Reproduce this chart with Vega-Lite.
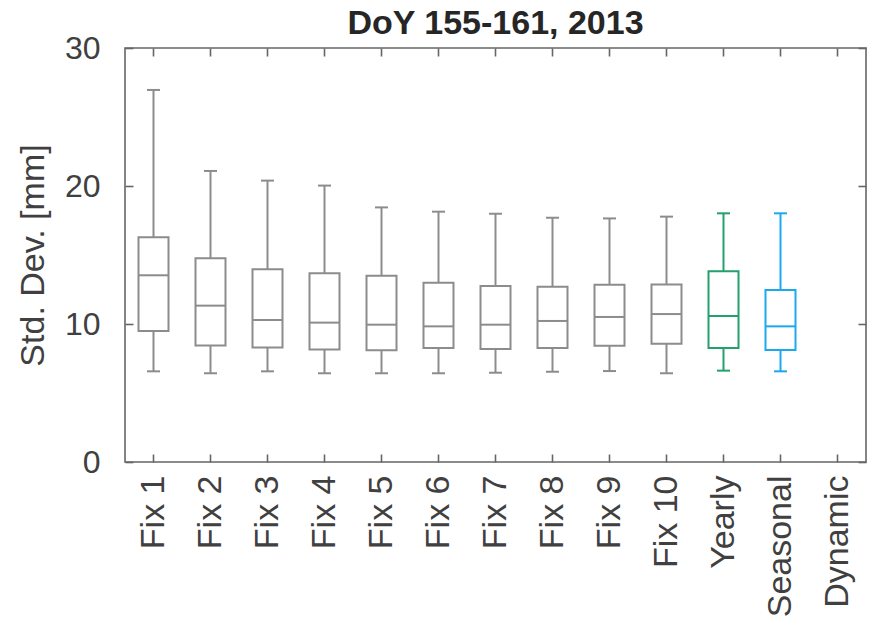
{
  "$schema": "https://vega.github.io/schema/vega-lite/v6.json",
  "autosize": {"type": "none"},
  "padding": {"left": 125, "top": 48, "right": 3, "bottom": 159},
  "width": 741,
  "height": 414,
  "title": {"text": "DoY 155-161, 2013", "fontSize": 34, "fontWeight": "bold", "font": "Liberation Sans", "color": "#262626", "offset": -9, "anchor": "middle"},
  "config": {
    "view": {"stroke": "#666666", "strokeWidth": 1.6},
    "axis": {"labelFont": "Liberation Sans", "titleFont": "Liberation Sans", "labelColor": "#404040", "titleColor": "#404040", "grid": false, "domain": false, "tickColor": "#666666", "tickWidth": 1.6}
  },
  "data": {"values": [
    {"cat": "Fix 1", "grp": "fix", "lo": 6.57, "q1": 9.49, "med": 13.53, "q3": 16.28, "hi": 26.96},
    {"cat": "Fix 2", "grp": "fix", "lo": 6.43, "q1": 8.45, "med": 11.33, "q3": 14.76, "hi": 21.09},
    {"cat": "Fix 3", "grp": "fix", "lo": 6.57, "q1": 8.29, "med": 10.29, "q3": 13.96, "hi": 20.39},
    {"cat": "Fix 4", "grp": "fix", "lo": 6.43, "q1": 8.16, "med": 10.10, "q3": 13.67, "hi": 20.03},
    {"cat": "Fix 5", "grp": "fix", "lo": 6.43, "q1": 8.09, "med": 9.95, "q3": 13.5, "hi": 18.45},
    {"cat": "Fix 6", "grp": "fix", "lo": 6.43, "q1": 8.26, "med": 9.83, "q3": 12.99, "hi": 18.14},
    {"cat": "Fix 7", "grp": "fix", "lo": 6.47, "q1": 8.19, "med": 9.95, "q3": 12.75, "hi": 17.99},
    {"cat": "Fix 8", "grp": "fix", "lo": 6.54, "q1": 8.26, "med": 10.22, "q3": 12.70, "hi": 17.70},
    {"cat": "Fix 9", "grp": "fix", "lo": 6.59, "q1": 8.43, "med": 10.51, "q3": 12.85, "hi": 17.65},
    {"cat": "Fix 10", "grp": "fix", "lo": 6.43, "q1": 8.57, "med": 10.72, "q3": 12.87, "hi": 17.78},
    {"cat": "Yearly", "grp": "yearly", "lo": 6.62, "q1": 8.26, "med": 10.58, "q3": 13.82, "hi": 18.02},
    {"cat": "Seasonal", "grp": "seasonal", "lo": 6.57, "q1": 8.12, "med": 9.83, "q3": 12.46, "hi": 18.02}
  ]},
  "encoding": {
    "x": {"field": "cat", "type": "nominal", "sort": null, "axis": null,
      "scale": {"domain": ["Fix 1","Fix 2","Fix 3","Fix 4","Fix 5","Fix 6","Fix 7","Fix 8","Fix 9","Fix 10","Yearly","Seasonal","Dynamic"], "paddingInner": 0, "paddingOuter": 0}},
    "color": {"field": "grp", "type": "nominal", "legend": null,
      "scale": {"domain": ["fix","yearly","seasonal"], "range": ["#8c8c8c","#22a06e","#1ba8ef"]}}
  },
  "layer": [
    {
      "mark": {"type": "rule", "strokeWidth": 2},
      "encoding": {
        "x": {"field": "cat", "type": "nominal", "sort": null,
          "axis": {"orient": "bottom", "title": null, "labelAngle": -90, "labelFontSize": 34, "tickSize": -8, "labelPadding": 21}},
        "y": {"field": "lo", "type": "quantitative", "scale": {"domain": [0, 30], "nice": false, "zero": true},
          "axis": {"orient": "left", "values": [0,10,20,30], "title": "Std. Dev. [mm]", "titleFontSize": 34, "titleFontWeight": "normal", "labelFontSize": 32, "tickSize": -8, "labelPadding": 33, "titlePadding": 14}},
        "y2": {"field": "hi"}
      }
    },
    {
      "mark": {"type": "bar", "fill": "white", "strokeWidth": 2, "size": 30, "opacity": 1},
      "encoding": {
        "y": {"field": "q1", "type": "quantitative", "axis": null},
        "y2": {"field": "q3"},
        "stroke": {"field": "grp", "type": "nominal", "legend": null,
          "scale": {"domain": ["fix","yearly","seasonal"], "range": ["#8c8c8c","#22a06e","#1ba8ef"]}}
      }
    },
    {
      "mark": {"type": "tick", "thickness": 2, "size": 30, "opacity": 1},
      "encoding": {
        "x": {"field": "cat", "type": "nominal", "sort": null,
          "axis": {"orient": "top", "title": null, "labels": false, "tickSize": -8}},
        "y": {"field": "med", "type": "quantitative",
          "axis": {"orient": "right", "values": [0,10,20,30], "title": null, "labels": false, "tickSize": -8}}
      }
    },
    {
      "mark": {"type": "tick", "thickness": 2, "size": 13, "opacity": 1},
      "encoding": {"y": {"field": "lo", "type": "quantitative", "axis": null}}
    },
    {
      "mark": {"type": "tick", "thickness": 2, "size": 13, "opacity": 1},
      "encoding": {"y": {"field": "hi", "type": "quantitative", "axis": null}}
    }
  ],
  "resolve": {"axis": {"x": "independent", "y": "independent"}}
}
